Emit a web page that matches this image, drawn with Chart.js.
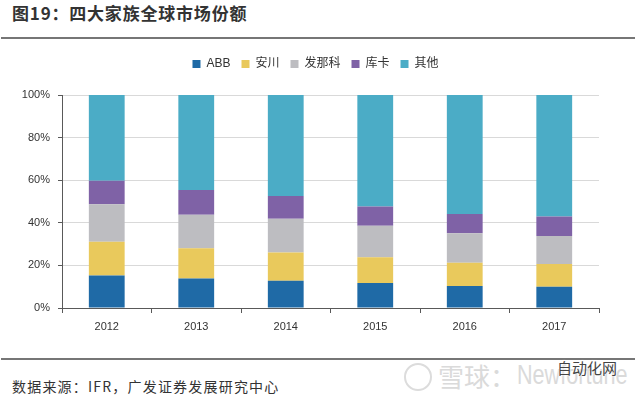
<!DOCTYPE html>
<html>
<head>
<meta charset="utf-8">
<script src="https://cdn.jsdelivr.net/npm/chart.js@4/dist/chart.umd.min.js"></script>
<style>
  html, body { margin:0; padding:0; background:#fff; width:640px; height:397px; overflow:hidden; }
  body { position:relative; font-family:'Liberation Sans','Noto Sans CJK SC',sans-serif; }
  #title { position:absolute; left:12px; top:2px; font-family:'Noto Sans CJK SC',sans-serif; font-weight:bold; font-size:17px; letter-spacing:0.8px; color:#333; line-height:22px; white-space:nowrap; }
  .rule { position:absolute; left:1px; width:634px; height:2px; background:#767676; }
  #chartwrap { position:absolute; left:0; top:45px; width:640px; height:300px; }
  #source { position:absolute; left:12px; top:376px; font-family:'Noto Sans CJK SC',sans-serif; font-size:14px; letter-spacing:1.2px; color:#333; line-height:20px; white-space:nowrap; }
  #wm1 { position:absolute; left:438px; top:360px; font-size:26px; color:#dadada; line-height:32px; white-space:nowrap; }
  #wm1 .cj { font-family:'Noto Sans CJK SC',sans-serif; }
  #wm2 { position:absolute; left:517px; top:359px; font-family:'Liberation Sans',sans-serif; font-size:27px; color:#dadada; line-height:32px; white-space:nowrap; transform:scaleX(0.8); transform-origin:0 0; }
  #wmc { position:absolute; left:404px; top:363px; width:24px; height:24px; border:2px solid #dcdcdc; border-radius:50%; }
  #wm3 { position:absolute; left:557px; top:359px; font-family:'Noto Sans CJK SC',sans-serif; font-size:15px; color:#444; line-height:18px; white-space:nowrap; text-shadow:0 0 2px #fff,0 0 2px #fff; }
</style>
</head>
<body>
<div id="title">图19：四大家族全球市场份额</div>
<div class="rule" style="top:37px;"></div>
<div id="chartwrap"><canvas id="c" width="640" height="300"></canvas></div>
<div class="rule" style="top:358px;"></div>
<div id="wmc"></div>
<div id="wm1"><span class="cj">雪球：</span></div>
<div id="wm2">Newfortune</div>
<div id="wm3">自动化网</div>
<div id="source">数据来源：IFR，广发证券发展研究中心</div>
<script>
const categories = ['2012', '2013', '2014', '2015', '2016', '2017'];
const seriesNames = ['ABB', '安川', '发那科', '库卡', '其他'];
const abbValues = [15.2, 13.8, 12.8, 11.7, 10.3, 10.0];
const yaskawaValues = [15.9, 14.2, 13.2, 12.1, 11.0, 10.7];
const fanucValues = [17.6, 15.8, 15.9, 14.8, 13.8, 13.1];
const kukaValues = [11.1, 11.6, 10.7, 9.0, 9.0, 9.1];
const otherValues = [40.2, 44.6, 47.4, 52.4, 55.9, 57.1];
const yTickLabels = ['0%', '20%', '40%', '60%', '80%', '100%'];

const seriesColors = ['#1f6aa6', '#e9c95c', '#bdbdc1', '#7f62a6', '#4bacc6'];
const seriesData = [abbValues, yaskawaValues, fanucValues, kukaValues, otherValues];

const FONT = "'Liberation Sans','Noto Sans CJK SC',sans-serif";
const AXIS = '#595959';

const legendTweakPlugin = {
  id: 'legendTweak',
  afterInit(chart) {
    const lg = chart.legend;
    if (!lg) return;
    const orig = lg.fit;
    lg.fit = function () { orig.call(this); this.height = 50; };
  },
  afterLayout(chart) {
    const lg = chart.legend;
    if (!lg) return;
    lg.left += 16;
    lg.right += 16;
    lg.top += 2;
    lg.bottom += 2;
  }
};

new Chart(document.getElementById('c'), {
  type: 'bar',
  data: {
    labels: categories,
    datasets: seriesNames.map((name, i) => ({
      label: name,
      data: seriesData[i],
      backgroundColor: seriesColors[i],
      borderWidth: 0,
      barPercentage: 0.4,
      categoryPercentage: 1.0
    }))
  },
  options: {
    responsive: false,
    animation: false,
    devicePixelRatio: 1,
    layout: { padding: { left: 0, right: 41, top: 0, bottom: 0 } },
    plugins: {
      legend: {
        position: 'top',
        align: 'center',
        labels: {
          boxWidth: 8,
          boxHeight: 8,
          padding: 11,
          color: '#333',
          font: { family: FONT, size: 12 }
        }
      },
      tooltip: { enabled: false }
    },
    scales: {
      x: {
        stacked: true,
        offset: true,
        afterFit(scale) { scale.height = 37; },
        grid: {
          display: true,
          drawOnChartArea: false,
          drawTicks: true,
          tickLength: 5,
          tickColor: AXIS,
          offset: true
        },
        border: { display: true, color: AXIS, width: 1 },
        ticks: { color: '#333', padding: 7, font: { family: FONT, size: 11 }, maxRotation: 0 }
      },
      y: {
        stacked: true,
        min: 0,
        max: 100,
        afterFit(scale) { scale.width = 62; },
        grid: {
          color: '#d9d9d9',
          lineWidth: 1,
          drawTicks: true,
          tickLength: 4,
          tickColor: AXIS
        },
        border: { display: true, color: AXIS, width: 1 },
        ticks: {
          stepSize: 20,
          padding: 8,
          color: '#333',
          font: { family: FONT, size: 11 },
          callback: (v) => yTickLabels[Math.round(v / 20)]
        }
      }
    }
  },
  plugins: [legendTweakPlugin]
});
</script>
</body>
</html>
